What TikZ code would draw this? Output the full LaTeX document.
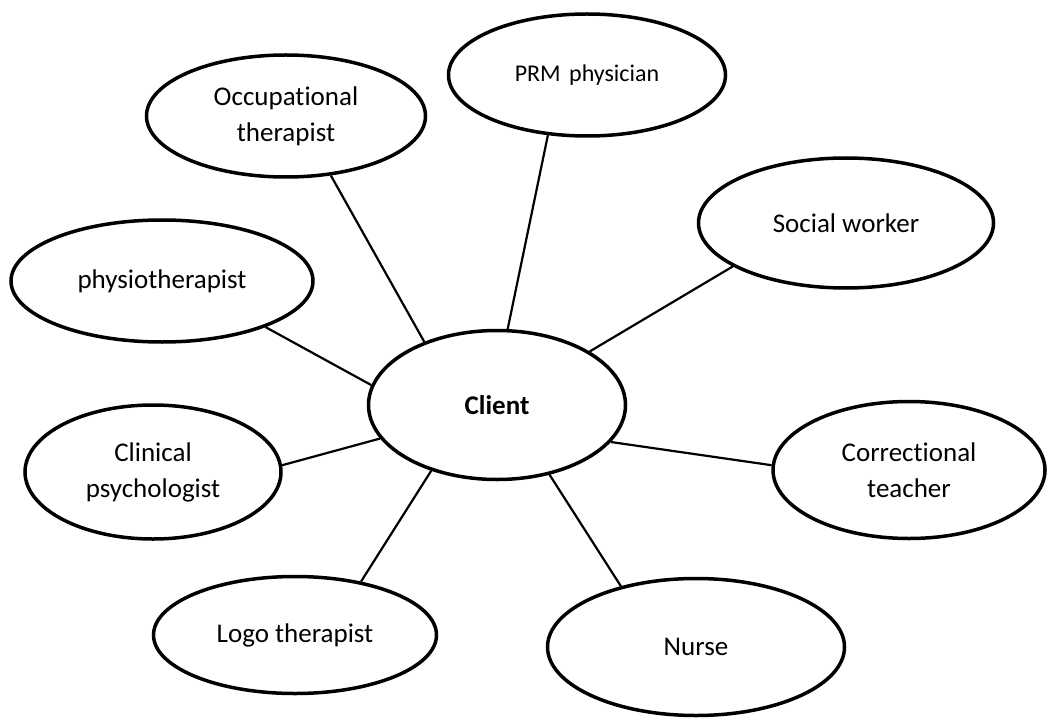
\documentclass[tikz,border=0pt]{standalone}
\usepackage{fontspec}
\setmainfont{Carlito}[Ligatures=NoCommon]
\usetikzlibrary{shapes,positioning}

\begin{document}
\begin{tikzpicture}[x=1pt, y=-1pt,
  role/.style={draw, ellipse, line width=3.5pt, inner sep=0pt, align=center,
    font=\fontsize{27}{36}\selectfont},
  link/.style={line width=2.2pt}]
  \useasboundingbox (0,0) rectangle (1048,719);
  \node[role, minimum width=257pt, minimum height=149pt,
    font=\fontsize{27}{36}\selectfont\bfseries] (client) at (497,405) {Client};
  \node[role, minimum width=277pt, minimum height=122pt,
    font=\fontsize{24}{30}\selectfont] (prm) at (587,75) {PRM\hspace{0.35em}physician};
  \node[role, minimum width=279pt, minimum height=122pt] (occ) at (286,116) {Occupational\\therapist};
  \node[role, minimum width=295pt, minimum height=130pt] (social) at (846,223) {Social worker};
  \node[role, minimum width=302pt, minimum height=122pt] (physio) at (162,281) {physiotherapist};
  \node[role, minimum width=256pt, minimum height=134pt] (clinic) at (153,472) {Clinical\\psychologist};
  \node[role, minimum width=272pt, minimum height=137pt] (correct) at (909,470) {Correctional\\teacher};
  \node[role, minimum width=283pt, minimum height=117pt] (logo) at (295,635) {Logo therapist};
  \node[role, minimum width=297pt, minimum height=137pt] (nurse) at (696,647) {Nurse};
  \draw[link] (client.82) -- (prm.237);
  \draw[link] (client.139) -- (occ.307);
  \draw[link] (client.30) -- (social.201);
  \draw[link] (client.171) -- (physio.336);
  \draw[link] (client.196) -- (clinic.3);
  \draw[link] (client.342) -- (correct.178);
  \draw[link] (client.225) -- (logo.39);
  \draw[link] (client.307) -- (nurse.141);
\end{tikzpicture}
\end{document}
